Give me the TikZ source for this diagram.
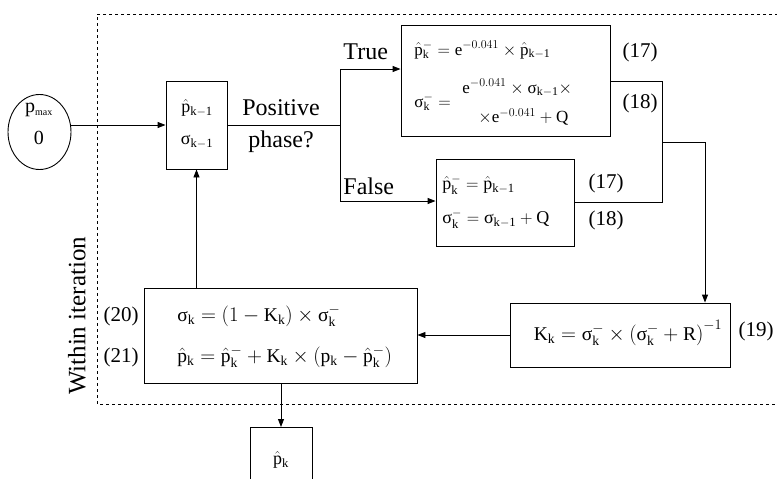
\documentclass[tikz,border=0pt]{standalone}
\usepackage{fontspec}
\setmainfont{Liberation Serif}
\usetikzlibrary{arrows.meta,shapes.geometric}
\newcommand{\rmv}[1]{\mathrm{#1}}
\newcommand{\sig}{\mbox{σ}}
\newcommand{\ph}{\hat{\mathrm{p}}}
\begin{document}
\begin{tikzpicture}[x=1pt,y=-1pt,
  line width=0.9pt,
  boxst/.style={draw, line width=0.9pt, inner sep=0pt},
  lbl/.style={font=\fontsize{24}{26}\selectfont, inner sep=0pt},
  eqn/.style={font=\fontsize{17}{19}\selectfont, inner sep=0pt, anchor=west},
  num/.style={font=\fontsize{21}{23}\selectfont, inner sep=0pt},
  arr/.style={-{Triangle[length=8pt,width=6pt]}}]
\useasboundingbox (0,0) rectangle (777,479);
% dashed region
\draw[dashed, line width=0.8pt] (778,14) -- (97,14) -- (97,404) -- (778,404);
% start ellipse
\node[draw, ellipse, minimum width=63pt, minimum height=75pt, inner sep=0pt] (start) at (39.5,132) {};
\node[lbl, font=\fontsize{20}{22}\selectfont] (pmax) at (39,110) {p\textsubscript{\fontsize{10}{10}\selectfont max}};
\node[lbl, font=\fontsize{20}{22}\selectfont] (zero) at (39,138) {0};
% previous state box
\node[boxst, minimum width=61pt, minimum height=88pt] (prev) at (196.5,125) {};
\node[font=\fontsize{18}{20}\selectfont, inner sep=0pt] (prevp) at (197,108) {$\ph_{\rmv{k-1}}$};
\node[font=\fontsize{18}{20}\selectfont, inner sep=0pt] (prevs) at (197,142) {$\sig_{\rmv{k-1}}$};
% question
\node[lbl] (pos) at (281,108) {Positive};
\node[lbl] (phase) at (281,142) {phase?};
\coordinate (junc) at (340,125);
\coordinate (jt) at (340,69);
\coordinate (jf) at (340,201);
\node[lbl, anchor=south west] (truel) at (343,60) {True};
\node[lbl, anchor=south west] (falsel) at (343,195) {False};
% true box
\node[boxst, minimum width=209pt, minimum height=111pt] (tbox) at (505.5,80.5) {};
\node[eqn] (t1) at (414,50) {$\ph^{-}_{\rmv{k}} = \rmv{e}^{-0.041}\times \ph_{\rmv{k-1}}$};
\node[eqn] (t2) at (414,102) {$\sig^{-}_{\rmv{k}} =$};
\node[eqn] (t3) at (462,88) {$\rmv{e}^{-0.041}\times \sig_{\rmv{k-1}}\times$};
\node[eqn] (t4) at (478,117) {$\times\rmv{e}^{-0.041}+\rmv{Q}$};
\node[num] (n17a) at (640,52) {(17)};
\node[num] (n18a) at (640,103) {(18)};
% false box
\node[boxst, minimum width=138pt, minimum height=87pt] (fbox) at (505,202.5) {};
\node[eqn, font=\fontsize{18}{20}\selectfont] (f1) at (442,185) {$\ph^{-}_{\rmv{k}} = \ph_{\rmv{k-1}}$};
\node[eqn, font=\fontsize{18}{20}\selectfont] (f2) at (442,219) {$\sig^{-}_{\rmv{k}} = \sig_{\rmv{k-1}} + \rmv{Q}$};
\node[num] (n17b) at (606,183) {(17)};
\node[num] (n18b) at (606,220) {(18)};
% gain box
\node[boxst, minimum width=220pt, minimum height=64pt] (kbox) at (620,335) {};
\node[font=\fontsize{19.5}{21}\selectfont, inner sep=0pt] (keq) at (628,333) {$\rmv{K}_{\rmv{k}} = \sig^{-}_{\rmv{k}}\times\left(\sig^{-}_{\rmv{k}}+\rmv{R}\right)^{-1}$};
\node[num] (n19) at (756,331) {(19)};
% update box
\node[boxst, minimum width=273pt, minimum height=95pt] (ubox) at (280.5,335.5) {};
\node[eqn, font=\fontsize{19.5}{21}\selectfont] (u1) at (177,316) {$\sig_{\rmv{k}} = \left(1-\rmv{K}_{\rmv{k}}\right)\times\sig^{-}_{\rmv{k}}$};
\node[eqn, font=\fontsize{19.5}{21}\selectfont] (u2) at (177,357) {$\ph_{\rmv{k}} = \ph^{-}_{\rmv{k}}+\rmv{K}_{\rmv{k}}\times\left(\rmv{p}_{\rmv{k}}-\ph^{-}_{\rmv{k}}\right)$};
\node[num] (n20) at (121,316) {(20)};
\node[num] (n21) at (121,357) {(21)};
% output box
\node[boxst, minimum width=62pt, minimum height=70pt, anchor=north] (out) at (281,427) {};
\node[font=\fontsize{18}{20}\selectfont, inner sep=0pt] (outp) at (281,460) {$\ph_{\rmv{k}}$};
% side label
\node[lbl, rotate=90, font=\fontsize{25}{27}\selectfont] (within) at (77,316) {Within iteration};
% connectors
\draw[arr] (start.east |- prev.west) -- (prev.west);
\draw (prev.east) -- (junc);
\draw[arr] (junc) -- (jt) -- (tbox.west |- jt);
\draw[arr] (junc) -- (jf) -- (fbox.west |- jf);
\coordinate (ta) at (662,81);
\coordinate (fa) at (662,202);
\coordinate (mid) at (662,142);
\coordinate (mr) at (705,142);
\draw (tbox.east |- ta) -- (ta) -- (fa) -- (fbox.east |- fa);
\draw[arr] (mid) -- (mr) -- (mr |- kbox.north);
\draw[arr] (kbox.west) -- (ubox.east |- kbox.west);
\draw[arr] (ubox.north -| prev.south) -- (prev.south);
\draw[arr] (ubox.south -| out.north) -- (out.north);
\end{tikzpicture}
\end{document}
